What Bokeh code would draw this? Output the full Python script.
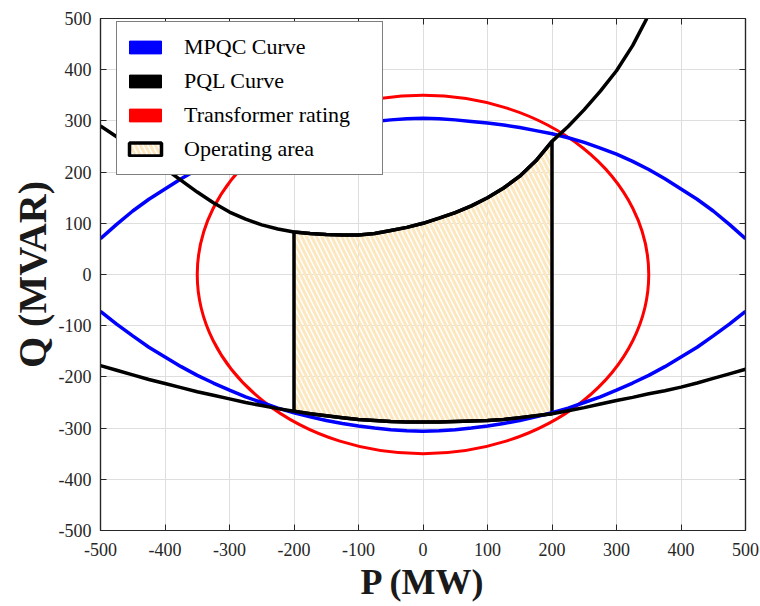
from bokeh.plotting import figure
from bokeh.models import Range1d, LinearAxis, FixedTicker, Legend, LegendItem
from bokeh.embed import file_html
from bokeh.resources import INLINE

# ---- data ----
TICKS = [-500, -400, -300, -200, -100, 0, 100, 200, 300, 400, 500]
TICK_LABELS = ["-500", "-400", "-300", "-200", "-100", "0",
               "100", "200", "300", "400", "500"]

# MPQC curve (blue)
P_mpqc = [-500, -475, -450, -425, -400, -375, -350, -325, -300, -275, -250,
          -225, -200, -175, -150, -125, -100, -75, -50, -25, 0,
          25, 50, 75, 100, 125, 150, 175, 200, 225, 250,
          275, 300, 325, 350, 375, 400, 425, 450, 475, 500]
Q_mpqc_upper = [70, 98, 124, 147, 167, 187, 205, 221, 235, 247, 258,
                267, 275, 281, 287, 292, 296, 299, 302, 304, 305,
                304, 302, 299, 296, 292, 287, 281, 275, 267, 258,
                247, 235, 221, 205, 187, 167, 147, 124, 98, 70]
Q_mpqc_lower = [-72, -97, -120, -142, -161, -180, -197, -212, -226, -239, -250,
                -261, -270, -278, -285, -291, -296, -300, -303, -305, -306,
                -305, -303, -300, -296, -291, -285, -278, -270, -261, -250,
                -239, -226, -212, -197, -180, -161, -142, -120, -97, -72]

# PQL curve (black)
P_pql_upper = [-500, -475, -450, -425, -400, -375, -350, -325, -300, -275, -250,
               -225, -200, -175, -150, -125, -100, -75, -50, -25, 0,
               25, 50, 75, 100, 125, 150, 175, 200, 225, 250,
               275, 300, 325, 347]
Q_pql_upper = [290, 269, 248, 228, 207, 184, 161, 140, 122, 108, 97,
               89, 83, 80, 78, 77, 77, 80, 86, 92, 100,
               110, 121, 134, 150, 169, 192, 222, 260, 289, 322,
               358, 398, 447, 500]
P_pql_lower = [-500, -475, -450, -425, -400, -375, -350, -325, -300, -275, -250,
               -225, -200, -175, -150, -125, -100, -75, -50, -25, 0,
               25, 50, 75, 100, 125, 150, 175, 200, 225, 250,
               275, 300, 325, 350, 375, 400, 425, 450, 475, 500]
Q_pql_lower = [-178, -187, -196, -205, -213, -221, -229, -236, -243, -250, -256,
               -262, -267, -272, -276, -280, -283, -285, -287, -288, -288,
               -288, -287, -286, -285, -283, -280, -276, -272, -266, -260,
               -253, -246, -240, -233, -227, -220, -212, -203, -194, -185]

# Transformer rating (MVA) -> circle
S_rating = 350

# Operating area limits on P
P_min, P_max = -200, 200

# ---- figure ----
p = figure(width=760, height=606, output_backend="svg", toolbar_location=None,
           x_range=Range1d(-500, 500), y_range=Range1d(-500, 500),
           min_border_left=100, min_border_right=15, min_border_top=18,
           min_border_bottom=76, background_fill_color="white",
           border_fill_color="white")

p.outline_line_color = "#262626"
p.outline_line_width = 1.2
p.grid.grid_line_color = "#dedede"
p.grid.grid_line_width = 1
p.xgrid.ticker = FixedTicker(ticks=TICKS)
p.ygrid.ticker = FixedTicker(ticks=TICKS)


def style_axis(ax, show_labels=True):
    ax.ticker = FixedTicker(ticks=TICKS)
    ax.minor_tick_line_color = None
    ax.major_tick_in = 6
    ax.major_tick_out = 0
    ax.major_tick_line_color = "#262626"
    ax.axis_line_color = "#262626"
    ax.axis_line_width = 1.2
    if show_labels:
        ax.major_label_overrides = {t: s for t, s in zip(TICKS, TICK_LABELS)}
        ax.major_label_text_font = "Liberation Serif"
        ax.major_label_text_font_size = "18px"
        ax.major_label_text_color = "#262626"
        ax.axis_label_text_font = "Liberation Serif"
        ax.axis_label_text_font_style = "bold"
        ax.axis_label_text_color = "#1a1a1a"
    else:
        ax.major_label_overrides = {t: "" for t in TICKS}
        ax.major_label_standoff = 0


style_axis(p.xaxis[0])
style_axis(p.yaxis[0])
p.xaxis.axis_label = "P (MW)"
p.yaxis.axis_label = "Q (MVAR)"
p.xaxis.axis_label_text_font_size = "36px"
p.yaxis.axis_label_text_font_size = "40px"
p.xaxis.major_label_standoff = 12
p.yaxis.major_label_standoff = 9
p.xaxis.axis_label_standoff = 3
p.yaxis.axis_label_standoff = 1

top_ax = LinearAxis()
right_ax = LinearAxis()
style_axis(top_ax, False)
style_axis(right_ax, False)
p.add_layout(top_ax, "above")
p.add_layout(right_ax, "right")

# ---- operating area ----
area_P, area_Q = [], []
for P, Q in zip(P_pql_upper, Q_pql_upper):
    if P_min <= P <= P_max:
        area_P.append(P)
        area_Q.append(Q)
for P, Q in reversed(list(zip(P_pql_lower, Q_pql_lower))):
    if P_min <= P <= P_max:
        area_P.append(P)
        area_Q.append(Q)

area = p.patch(area_P, area_Q, fill_color="white", fill_alpha=0.0,
               hatch_pattern="\\", hatch_color="#fce7bf", hatch_scale=10,
               hatch_weight=3, line_color="black", line_width=3.5)

# ---- curves ----
p.ellipse(x=[0], y=[0], width=[2 * S_rating], height=[2 * S_rating],
          fill_color=None, line_color="red", line_width=3)
p.line(P_mpqc, Q_mpqc_upper, line_color="blue", line_width=3.5)
p.line(P_mpqc, Q_mpqc_lower, line_color="blue", line_width=3.5)
p.line(P_pql_upper, Q_pql_upper, line_color="black", line_width=3.5)
p.line(P_pql_lower, Q_pql_lower, line_color="black", line_width=3.5)

# legend proxies (solid swatches, hidden in the plot)
sw_blue = p.quad(left=[P_mpqc[0]], right=[P_mpqc[-1]], top=[Q_mpqc_upper[10]],
                 bottom=[Q_mpqc_lower[10]], fill_color="blue", line_color="blue",
                 visible=False)
sw_black = p.quad(left=[P_pql_lower[0]], right=[P_pql_lower[-1]], top=[Q_pql_upper[0]],
                  bottom=[Q_pql_lower[0]], fill_color="black", line_color="black",
                  visible=False)
sw_red = p.quad(left=[-S_rating], right=[S_rating], top=[S_rating], bottom=[-S_rating],
                fill_color="red", line_color="red", visible=False)

legend = Legend(items=[
    LegendItem(label="MPQC Curve", renderers=[sw_blue]),
    LegendItem(label="PQL Curve", renderers=[sw_black]),
    LegendItem(label="Transformer rating", renderers=[sw_red]),
    LegendItem(label="Operating area", renderers=[area]),
], location=(16, 355), margin=0, padding=8, spacing=0,
    glyph_width=40, glyph_height=16, label_height=34, label_width=190,
    label_standoff=19, label_text_font="Liberation Serif",
    label_text_font_size="22px", label_text_color="black",
    border_line_color="black", border_line_width=1.5,
    background_fill_color="white", background_fill_alpha=1.0,
    inactive_fill_alpha=0.0)
p.add_layout(legend, "center")

open("out.html", "w").write(file_html(p, INLINE))
